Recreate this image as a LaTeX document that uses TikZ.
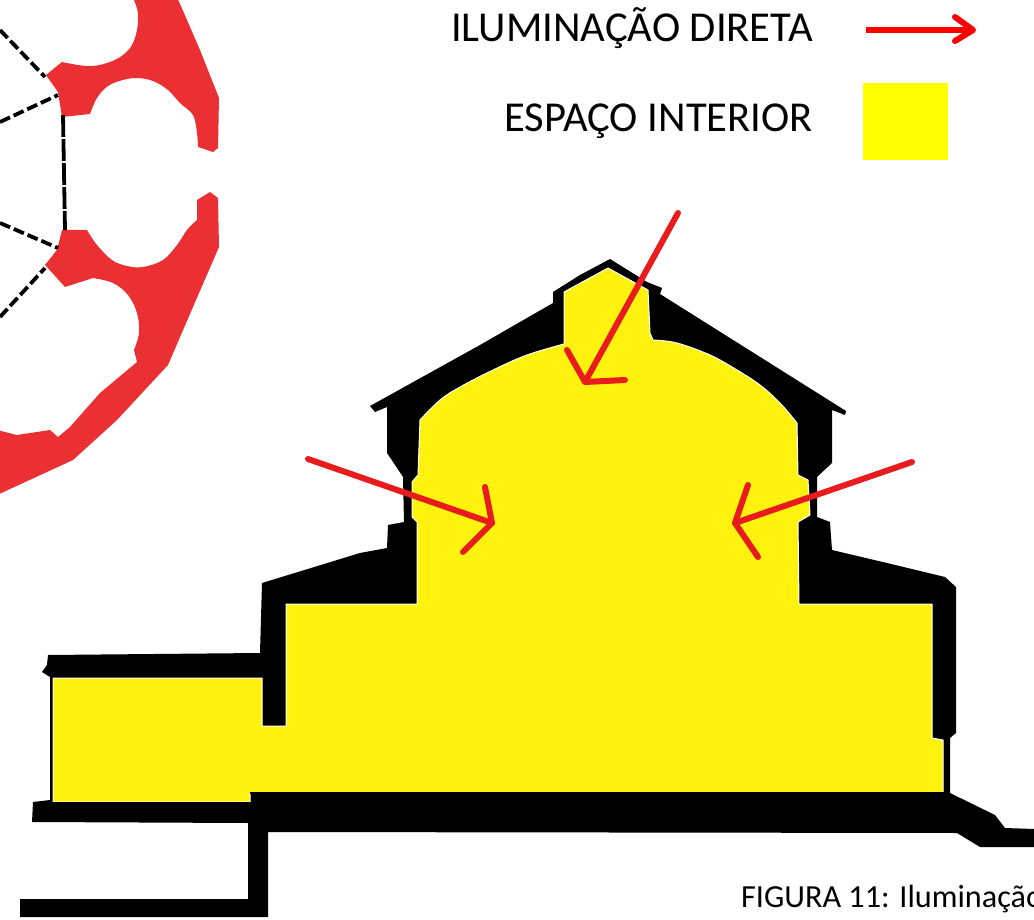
\documentclass[tikz,border=0pt]{standalone}
\usepackage{fontspec}
\setmainfont{Carlito}
\definecolor{corte}{HTML}{FFF20F}
\definecolor{luz}{HTML}{E81C1C}
\definecolor{planta}{HTML}{EA3033}
\definecolor{puro}{RGB}{255,0,0}
\definecolor{caixacor}{RGB}{255,255,0}
\tikzset{
	legenda/.style={font=\fontsize{42.6}{46}\selectfont, anchor=base east, inner sep=0pt},
	luzseta/.style={draw=luz, line width=6pt, line cap=round, line join=round},
	tracejado/.style={line width=3.8pt, dash pattern=on 11pt off 4pt},
}
\begin{document}
\begin{tikzpicture}[x=1pt,y=-1pt,line join=round]
	\useasboundingbox (0,0) rectangle (1034,920);
	\clip (0,0) rectangle (1034,920);
	%Planta em vermelho
	\fill[planta] (133,-3)--plot[smooth, tension=.6] coordinates {(134,0) (138,13) (137,30) (132,45) (123,55) (110,62) (93,66) (78,65) (62,62)}--(46,75)--(58,92)--(62,117)--(90,114)--plot[smooth, tension=.6] coordinates {(90,114) (97,98) (108,86) (123,80) (137,78) (153,81) (168,90) (180,103) (193,115) (197,133) (198,147)}--(213,152)--(218,148)--(219,98)--(200,50)--(177,-3)--cycle;
	\fill[planta] (210,192)--(218,198)--(219,247)--(193,307)--(168,365)--(117,420)--(73,460)--(-3,495)--(-3,430)--(17,435)--(50,430)--(58,437)--(70,427)--(100,393)--(137,362)--(134,350)--plot[smooth, tension=.6] coordinates {(134,350) (139,333) (137,313) (128,295) (113,283) (93,278)}--(65,287)--(45,265)--(57,250)--(62,230)--(87,230)--plot[smooth, tension=.6] coordinates {(87,230) (97,245) (112,260) (127,266) (143,267) (163,260) (177,245) (187,230) (197,220)}--(197,200)--cycle;
	%Linhas tracejadas da planta
	\foreach \a/\b in {0/30, 0/122, 0/223, 0/317}
	\coordinate (p\b) at (\a,\b);
	\coordinate (q30) at (45,77);
	\coordinate (q122) at (58,95);
	\coordinate (q223) at (58,248);
	\coordinate (q317) at (45,268);
	\foreach \b in {30,122,223,317}
	\draw[tracejado] (p\b)--(q\b);
	\coordinate (v1) at (63,115);
	\coordinate (v2) at (65,230);
	\draw[tracejado, dash pattern=on 22pt off 2pt] (v1)--(v2);
	%Corte em preto
	\fill[black] (610,259)--(580,275)--(553,292)--(553,303)--(480,345)--(370,406)--(375,412)--(387,407)--(387,453)--(403,477)--(404,522)--(388,525)--(387,548)--(360,553)--(262,583)--(260,653)--(48,655)--(47,665)--(42,672)--(50,677)--(50,800)--(33,802)--(32,822)--(248,823)--(248,899)--(20,899)--(20,917)--(268,917)--(268,832)--(957,833)--(980,847)--(1034,847)--(1034,829)--(1005,828)--(995,815)--(950,793)--(950,738)--(956,733)--(956,587)--(945,577)--(887,563)--(832,550)--(830,522)--(817,517)--(817,477)--(832,463)--(832,410)--(845,415)--(846,411)--(660,294)--(662,288)--(647,282)--cycle;
	%Espaco interior em amarelo
	\filldraw[fill=corte, draw=white, line width=1pt] (608,268)--(564,292)--(564,344)--plot[smooth, tension=.6] coordinates {(564,344) (527,355) (493,370) (460,387) (440,400) (420,420)}--(418,475)--(412,482)--(412,517)--(417,522)--(417,604)--(286,604)--(286,726)--(262,726)--(262,678)--(53,678)--(53,802)--(250,802)--(250,793)--(943,793)--(943,740)--(932,738)--(932,604)--(799,604)--(798,522)--(810,515)--(808,480)--(798,475)--(797,423)--plot[smooth, tension=.6] coordinates {(797,423) (780,403) (760,385) (737,370) (710,355) (677,343) (653,340)}--(650,333)--(648,290)--cycle;
	%Piso sem o filete branco
	\coordinate (pisoA) at (250,793);
	\coordinate (pisoB) at (950,793);
	\coordinate (pisoC) at (53,803);
	\coordinate (pisoD) at (250,803);
	\draw[line width=1.5pt] (pisoA)--(pisoB);
	\draw[line width=1.5pt] (pisoC)--(pisoD);
	%Setas de iluminacao
	\coordinate (topo) at (678,213);
	\coordinate (topoP) at (585,382);
	\coordinate (topoA) at (567,350);
	\coordinate (topoB) at (625,380);
	\coordinate (esq) at (308,459);
	\coordinate (esqP) at (492,523);
	\coordinate (esqA) at (485,487);
	\coordinate (esqB) at (463,552);
	\coordinate (dir) at (912,462);
	\coordinate (dirP) at (735,523);
	\coordinate (dirA) at (748,485);
	\coordinate (dirB) at (758,557);
	\foreach \s in {topo,esq,dir}{
		\draw[luzseta] (\s)--(\s P);
		\draw[luzseta] (\s A)--(\s P)--(\s B);
	}
	%Legenda
	\node[legenda] (ilum) at (813,42) {ILUMINAÇÃO DIRETA};
	\node[legenda] (espaco) at (813,132) {ESPAÇO INTERIOR};
	\coordinate (legA) at (866,30);
	\coordinate (legP) at (973,30);
	\coordinate (legB) at (955,17);
	\coordinate (legC) at (955,41);
	\draw[luzseta, draw=puro, line cap=butt] (legA)--(legP);
	\draw[luzseta, draw=puro] (legB)--(legP)--(legC);
	\node[fill=caixacor, minimum width=85pt, minimum height=77pt, inner sep=0pt, anchor=north west] (caixa) at (863,83) {};
	%Legenda da figura
	\node[font=\fontsize{32.2}{34}\selectfont, anchor=base west, inner sep=0pt] (figura) at (741,907) {FIGURA 11: Iluminação};
\end{tikzpicture}
\end{document}
